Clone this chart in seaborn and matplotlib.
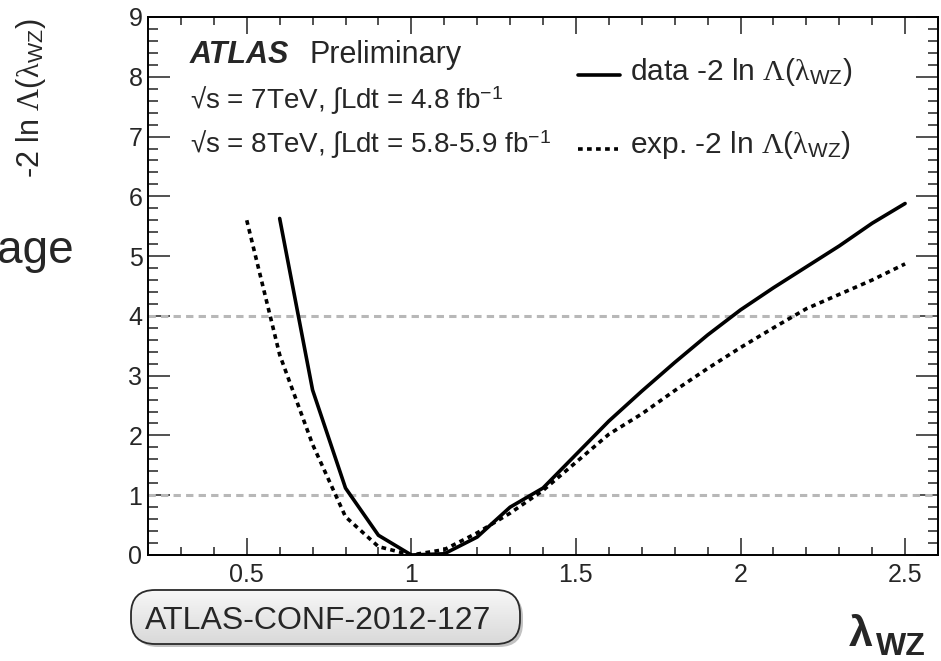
import numpy as np
import pandas as pd
import matplotlib
matplotlib.use("Agg")
import matplotlib.pyplot as plt
import seaborn as sns
from matplotlib.patches import FancyBboxPatch
from matplotlib.lines import Line2D
from matplotlib.colors import LinearSegmentedColormap
from matplotlib.ticker import MultipleLocator, FuncFormatter

# Profile likelihood scan in lambda_WZ: observed and expected
lam_data = [0.6, 0.7, 0.8, 0.9, 1.0, 1.1, 1.2, 1.3, 1.4, 1.5,
            1.6, 1.7, 1.8, 1.9, 2.0, 2.1, 2.2, 2.3, 2.4, 2.5]
nll_data = [5.63, 2.76, 1.12, 0.33, 0.00, 0.02, 0.30, 0.80, 1.12, 1.68,
            2.24, 2.74, 3.22, 3.68, 4.10, 4.47, 4.82, 5.17, 5.55, 5.88]
lam_exp = [0.5, 0.6, 0.7, 0.8, 0.9, 1.0, 1.1, 1.2, 1.3, 1.4, 1.5,
           1.6, 1.7, 1.8, 1.9, 2.0, 2.1, 2.2, 2.3, 2.4, 2.5]
nll_exp = [5.60, 3.35, 1.85, 0.64, 0.14, 0.00, 0.09, 0.37, 0.70, 1.08, 1.55,
           2.02, 2.36, 2.75, 3.12, 3.47, 3.80, 4.12, 4.36, 4.60, 4.87]
ref_levels = [1, 4]
x_ticks = [0.5, 1.0, 1.5, 2.0, 2.5]
y_ticks = list(range(0, 10))

obs = pd.DataFrame({"lam": lam_data, "nll": nll_data})
exp = pd.DataFrame({"lam": lam_exp, "nll": nll_exp})

sns.set_style("ticks")
plt.rcParams["font.family"] = ["Liberation Sans", "DejaVu Sans"]
plt.rcParams["mathtext.fontset"] = "custom"
plt.rcParams["mathtext.rm"] = "Liberation Serif"
plt.rcParams["mathtext.it"] = "Liberation Serif:italic"
plt.rcParams["mathtext.bf"] = "Liberation Serif:bold"
plt.rcParams["mathtext.sf"] = "Liberation Sans"

W, H = 941, 661
fig = plt.figure(figsize=(W / 100, H / 100), dpi=100)
fig.patch.set_facecolor("white")


def fx(x):
    return x / W


def fy(y):
    return 1 - y / H


ax_l, ax_r, ax_t, ax_b = 148, 938, 17, 555
ax = fig.add_axes([fx(ax_l), fy(ax_b), (ax_r - ax_l) / W, (ax_b - ax_t) / H])
ax.set_facecolor("white")

for lvl in ref_levels:
    ax.axhline(lvl, color="#b8b8b8", lw=2.2, ls=(0, (2.4, 1.7)), zorder=1)

sns.lineplot(data=exp, x="lam", y="nll", ax=ax, color="black", lw=2.6,
             sort=False, zorder=3)
ax.lines[-1].set_linestyle((0, (1.3, 1.2)))
sns.lineplot(data=obs, x="lam", y="nll", ax=ax, color="black", lw=2.6,
             sort=False, zorder=4)

ax.set_xlim(0.2, 2.6)
ax.set_ylim(0, 9)
ax.set_xlabel("")
ax.set_ylabel("")
ax.set_xticks(x_ticks)
ax.set_yticks(y_ticks)
ax.xaxis.set_minor_locator(MultipleLocator(0.1))
ax.yaxis.set_minor_locator(MultipleLocator(0.2))
ax.xaxis.set_major_formatter(FuncFormatter(lambda v, p: f"{v:g}"))
ax.tick_params(which="both", direction="in", top=True, right=True,
               width=1.1, color="#222222", labelsize=18)
ax.tick_params(axis="x", which="major", length=12.5, pad=6)
ax.tick_params(axis="x", which="minor", length=6)
ax.tick_params(axis="y", which="major", length=16, pad=4)
ax.tick_params(axis="y", which="minor", length=7.5)
for s in ax.spines.values():
    s.set_linewidth(1.4)
    s.set_color("black")
    s.set_visible(True)

LAM_WZ = r"$\mathrm{\Lambda}$($\mathrm{\lambda}_{\mathsf{WZ}}$)"

# Experiment label block
fig.text(fx(190), fy(63), "ATLAS", fontsize=22, fontweight="bold",
         fontstyle="italic", va="baseline", ha="left")
fig.text(fx(309), fy(63), "Preliminary", fontsize=22, va="baseline", ha="left")
fig.text(fx(190), fy(109), "√s = 7TeV, ∫Ldt = 4.8 fb$^{\\mathsf{-1}}$",
         fontsize=20, va="baseline", ha="left")
fig.text(fx(190), fy(153), "√s = 8TeV, ∫Ldt = 5.8-5.9 fb$^{\\mathsf{-1}}$",
         fontsize=20, va="baseline", ha="left")

# Legend
fig.add_artist(Line2D([fx(578), fx(620)], [fy(75), fy(75)], color="black",
                      lw=2.6, transform=fig.transFigure))
fig.add_artist(Line2D([fx(578), fx(618)], [fy(149), fy(149)], color="black",
                      lw=2.6, ls=(0, (1.3, 1.2)), transform=fig.transFigure))
fig.text(fx(630), fy(80), "data -2 ln " + LAM_WZ,
         fontsize=21.5, va="baseline", ha="left")
fig.text(fx(630), fy(153), "exp. -2 ln " + LAM_WZ,
         fontsize=21.5, va="baseline", ha="left")

# Axis titles
fig.text(fx(31), fy(19), "-2 ln " + LAM_WZ,
         fontsize=22, rotation=90, ha="center", va="top")
fig.text(fx(849), fy(646), "λ", fontsize=31, fontweight="bold",
         ha="left", va="baseline")
fig.text(fx(876), fy(655), "WZ", fontsize=23, fontweight="bold",
         ha="left", va="baseline")

# Slide text around the plot
fig.text(fx(74), fy(263), "age", fontsize=33, ha="right", va="baseline")

# Document reference badge (pixel-unit axes so the rounded ends stay round)
bx0, bw, bh = 120, 420, 80
bax = fig.add_axes([fx(bx0), 0, bw / W, bh / H])
bax.set_xlim(bx0, bx0 + bw)
bax.set_ylim(H, H - bh)
bax.axis("off")
pill = dict(boxstyle="round,pad=0,rounding_size=24")
shadow = FancyBboxPatch((134, 593), 389, 54, fc="#9a9a9a", ec="none",
                        alpha=0.6, **pill)
bax.add_patch(shadow)
face = FancyBboxPatch((131, 590), 389, 54, fc="none", ec="none", **pill)
bax.add_patch(face)
grad = np.linspace(0, 1, 64).reshape(-1, 1)
img = bax.imshow(grad, cmap=LinearSegmentedColormap.from_list(
    "pill", ["#f7f7f7", "#d9d9d9"]), extent=(131, 520, 644, 590),
    aspect="auto", zorder=2)
img.set_clip_path(face)
edge = FancyBboxPatch((131, 590), 389, 54, fc="none", ec="#2a2a2a", lw=1.3,
                      zorder=3, **pill)
bax.add_patch(edge)
bax.text(145, 629, "ATLAS-CONF-2012-127", fontsize=23,
         ha="left", va="baseline", zorder=4)

fig.savefig("out.png", dpi=100, facecolor="white")
